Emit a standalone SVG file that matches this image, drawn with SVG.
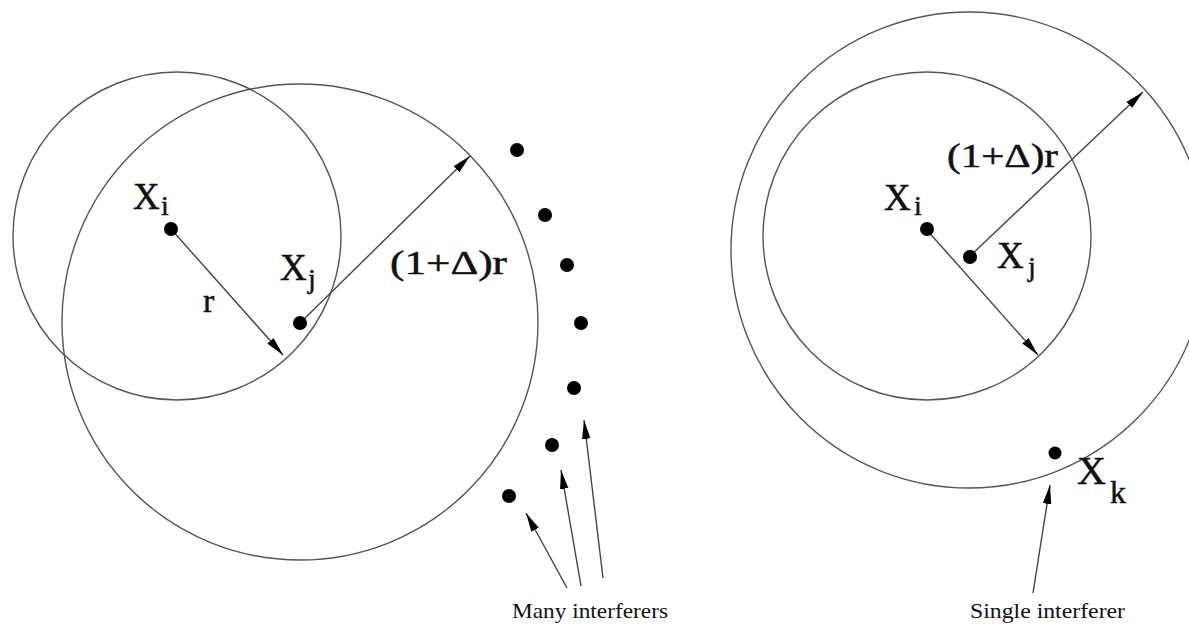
<svg xmlns="http://www.w3.org/2000/svg" width="1189" height="628" viewBox="0 0 1189 628">
<style>
.c{fill:none;stroke:#555;stroke-width:1.4}
.d{fill:#000}
.a{fill:none;stroke:#444;stroke-width:1.4}
.t{font-family:"Liberation Serif","Times New Roman",serif;fill:#111}
.b{stroke:#111;stroke-width:0.5}
.X{font-size:37px}
.s{font-size:28px}
.r{font-size:34px}
.lab{font-size:21px}
</style>
<defs>
<marker id="ah" markerUnits="userSpaceOnUse" markerWidth="20" markerHeight="10" refX="19" refY="5" orient="auto">
<path d="M0,0.8 L19,5 L0,9.2 z" fill="#000"/>
</marker>
</defs>
<rect width="1189" height="628" fill="#fff"/>

<g id="left-circle-small"><circle class="c" cx="177" cy="236" r="164"/></g>
<g id="left-circle-large"><circle class="c" cx="300" cy="322" r="238"/></g>
<g id="right-circle-inner"><circle class="c" cx="927" cy="236" r="164"/></g>
<g id="right-circle-outer"><circle class="c" cx="969" cy="250" r="238"/></g>

<g id="connectors">
<line class="a" x1="171" y1="229" x2="283" y2="355" marker-end="url(#ah)"/>
<line class="a" x1="300" y1="323" x2="470" y2="156" marker-end="url(#ah)"/>
<line class="a" x1="567" y1="588" x2="526" y2="513" marker-end="url(#ah)"/>
<line class="a" x1="581" y1="586" x2="561" y2="470" marker-end="url(#ah)"/>
<line class="a" x1="603" y1="578" x2="584" y2="420" marker-end="url(#ah)"/>
<line class="a" x1="926" y1="229" x2="1038" y2="355" marker-end="url(#ah)"/>
<line class="a" x1="969" y1="257" x2="1143" y2="92" marker-end="url(#ah)"/>
<line class="a" x1="1033" y1="593" x2="1050" y2="485" marker-end="url(#ah)"/>
</g>

<g id="left-xi"><circle class="d" cx="171" cy="229" r="7"/><text class="t b X" x="133" y="209">X</text><text class="t b s" x="161" y="215">i</text></g>
<g id="left-xj"><circle class="d" cx="300" cy="323" r="7"/><text class="t b X" x="280" y="280">X</text><text class="t b s" x="308" y="288">j</text></g>
<g id="left-label-r"><text class="t b r" x="203" y="312">r</text></g>
<g id="left-label-delta"><text class="t b r" x="390" y="274" textLength="117" lengthAdjust="spacingAndGlyphs">(1+Δ)r</text></g>

<g id="interferers">
<circle class="d" cx="517" cy="150" r="7"/>
<circle class="d" cx="545" cy="215" r="7"/>
<circle class="d" cx="567" cy="265" r="7"/>
<circle class="d" cx="581" cy="323" r="7"/>
<circle class="d" cx="574" cy="388" r="7"/>
<circle class="d" cx="552" cy="445" r="7"/>
<circle class="d" cx="509" cy="496" r="7"/>
</g>
<g id="label-many"><text class="t lab" x="512" y="618" textLength="156" lengthAdjust="spacingAndGlyphs">Many interferers</text></g>

<g id="right-xi"><circle class="d" cx="927" cy="229" r="7"/><text class="t b X" x="884" y="210">X</text><text class="t b s" x="914" y="215">i</text></g>
<g id="right-xj"><circle class="d" cx="970" cy="257" r="7"/><text class="t b X" x="997" y="268">X</text><text class="t b s" x="1028" y="276">j</text></g>
<g id="right-label-delta"><text class="t b r" x="947" y="167" textLength="111" lengthAdjust="spacingAndGlyphs">(1+Δ)r</text></g>
<g id="right-xk"><circle class="d" cx="1055" cy="453" r="6.5"/><text class="t b" style="font-size:40px" x="1077" y="484">X</text><text class="t b" style="font-size:32px" x="1110" y="503">k</text></g>
<g id="label-single"><text class="t lab" x="970" y="618" textLength="155" lengthAdjust="spacingAndGlyphs">Single interferer</text></g>
</svg>
